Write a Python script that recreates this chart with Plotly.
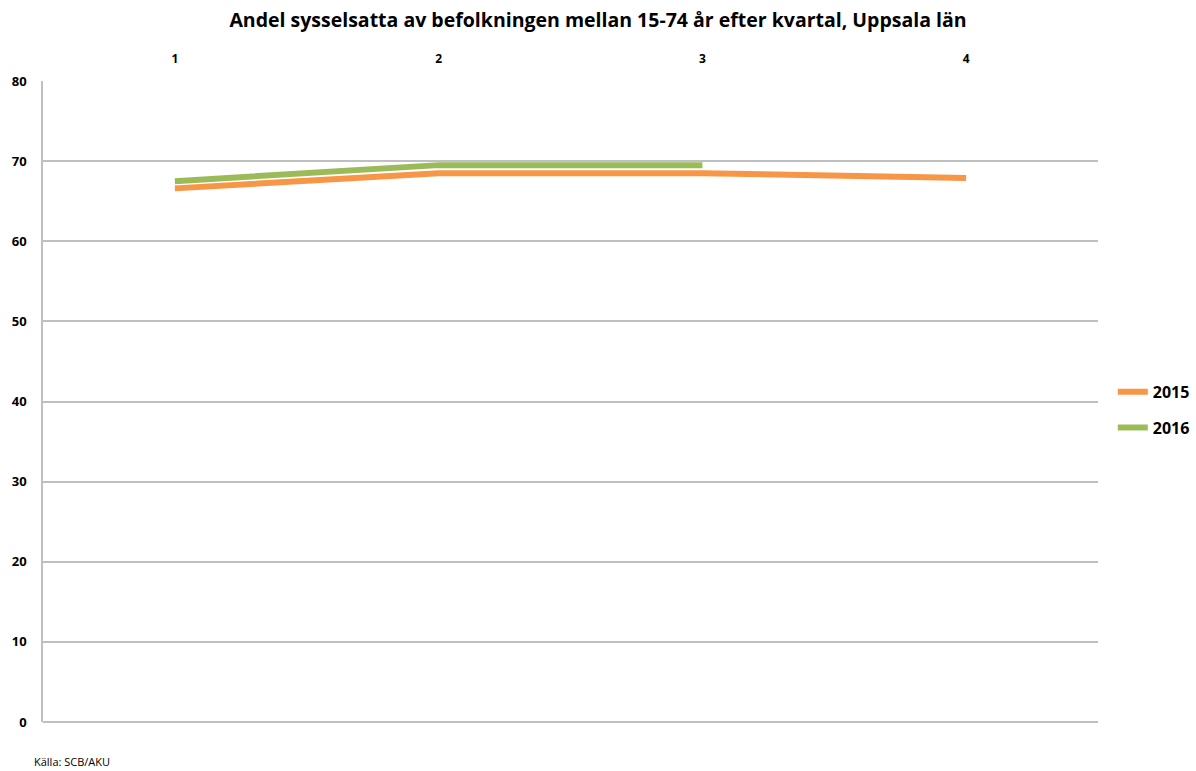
import plotly.graph_objects as go

quarters = [1, 2, 3, 4]
y2015 = [66.6, 68.5, 68.5, 67.9]
y2016 = [67.5, 69.5, 69.5]

fig = go.Figure()
fig.add_trace(go.Scatter(x=quarters, y=y2015, mode="lines", name="2015", legendgroup="a",
                         line=dict(color="#F79646", width=6)))
fig.add_trace(go.Scatter(x=quarters[:3], y=y2016, mode="lines", name="2016", legendgroup="b",
                         line=dict(color="#9BBB59", width=6)))

font = "Open Sans"
fig.update_layout(
    width=1196, height=771,
    margin=dict(l=43, r=98, t=81, b=49),
    plot_bgcolor="white", paper_bgcolor="white",
    title=dict(text="<b>Andel sysselsatta av befolkningen mellan 15-74 år efter kvartal, Uppsala län</b>",
               x=0.5, xanchor="center", y=0.974, yanchor="middle",
               font=dict(family=font, size=19.5, color="#000")),
    xaxis=dict(range=[0.5, 4.5], side="top", tickvals=quarters, showgrid=False,
               showline=False, zeroline=False, ticks="", automargin=False,
               ticklabelstandoff=15,
               tickfont=dict(family=font, size=12, color="#000", weight="bold")),
    yaxis=dict(range=[0, 80], dtick=10, showgrid=True, gridcolor="#BFBFBF",
               gridwidth=1.5, showline=True, linecolor="#BFBFBF", linewidth=1.5,
               zeroline=True, zerolinecolor="#BFBFBF", zerolinewidth=1.5,
               ticks="", ticklabelstandoff=12, automargin=False,
               tickfont=dict(family=font, size=13, color="#000", weight="bold")),
    legend=dict(xref="container", x=0.999, xanchor="right", y=0.487, yanchor="middle",
                font=dict(family=font, size=16, color="#000", weight="bold"),
                itemwidth=30, tracegroupgap=12),
    annotations=[dict(text="Källa: SCB/AKU", xref="paper", yref="paper",
                      x=-0.01, y=-0.062, xanchor="left", yanchor="middle",
                      showarrow=False, font=dict(family=font, size=11, color="#000"))],
)

fig.write_html("out.html", config={"displayModeBar": False},
               post_script="document.body.style.margin='0';")
